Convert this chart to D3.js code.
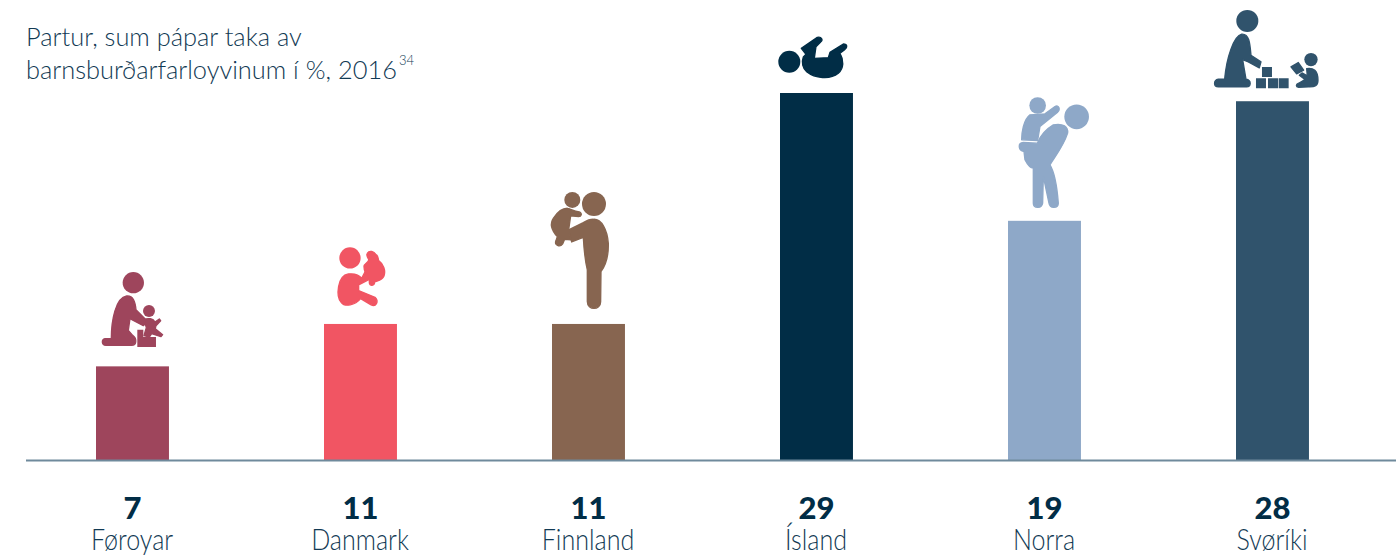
<!DOCTYPE html>
<html><head><meta charset="utf-8">
<script src="https://cdn.jsdelivr.net/npm/d3@7"></script>
<style>html,body{margin:0;background:#fff;overflow:hidden}svg{display:block}</style>
</head><body><div id="c"></div>
<script>
const categories = ["Føroyar","Danmark","Finnland","Ísland","Norra","Svøríki"];
const values = [7.4,10.75,10.75,29,18.9,28.35];
const barColors = ["#9e455c","#f15563","#876550","#012d46","#8ea8c8","#30536c"];
const titleLines = ["Partur, sum pápar taka av","barnsburðarfarloyvinum í %, 2016"];
const titleNote = "34";

// Pictograms drawn at 3x, offset from the top centre of their bar
const icons = [
 {dx:-52.5,dy:-126,circles:[[160,127,32],[207,212,18]],
  sharp:["M172 268H190V290H228V320H172Z"],
  fills:["M140 167C160 165 166 185 168 208L203 243 190 256 150 235 145 270 158 285C172 295 170 315 155 315L78 315C64 315 64 297 75 295L94 295C94 240 107 172 140 167Z",
   "M192 238C205 232 220 234 225 245L238 236 242 241 228 256 226 265 248 283 243 289 215 280 208 290 192 286 199 262Z"]},
 {dx:-280.5,dy:-84,circles:[[810,54,32]],sharp:[],
  fills:["M805 102C825 100 838 105 845 115L858 90 878 100 868 118 836 135 836 152 885 172C898 185 888 203 872 194L842 176C825 196 795 202 784 188C767 170 772 107 805 102Z",
   "M862 40C868 30 882 34 888 44C896 48 894 56 896 62C910 72 918 92 912 108C906 122 892 122 884 126C884 138 868 140 868 128L868 112C860 105 852 92 852 80C852 70 868 68 866 58C862 52 858 46 862 40Z"]},
 {dx:-58.5,dy:-144,circles:[[192,72,36],[127,60,24]],sharp:[],
  fills:["M190 118C215 116 232 150 235 190C236 225 228 255 213 275L212 365C212 392 172 392 172 365L172 270C165 240 162 210 160 172L125 186 116 150 160 128C170 122 180 118 190 118Z",
   "M112 85C125 87 128 93 148 96C158 101 154 110 146 110L122 108 116 150 123 180 104 178 98 192C90 203 72 196 78 182L82 170C64 150 60 130 70 115C80 100 95 85 112 85Z"]},
 {dx:-56.5,dy:-68,circles:[[88,110,33]],sharp:[],
  fills:["M124 70L172 37C185 34 190 45 182 51L168 65 163 100 205 98 210 82 250 57C263 57 263 68 254 74L240 85C252 105 252 130 235 145C210 165 165 160 140 140C128 130 124 112 130 96L138 88Z"]},
 {dx:-44.5,dy:-131,circles:[[230,81,37],[113,47,25]],sharp:[],
  fills:["M90 75C70 90 65 130 65 150L113 152 120 110 172 68C183 58 176 44 165 50L135 72Z",
   "M160 105C190 100 205 110 203 130C190 170 165 200 150 225C165 250 172 300 175 340C175 355 150 358 147 340L130 260 128 340C125 358 100 355 100 340L100 235C92 235 85 230 75 210L72 185C55 182 52 160 70 158L112 160C120 140 135 120 160 105Z"]},
 {dx:-72.5,dy:-101,circles:[[142,62,33],[333,178,20]],
  sharp:["M186 200H216V230H186ZM168 234H198V264H168ZM204 234H234V264H204ZM236 234H266V264H236Z"],
  fills:["M125 102C148 100 150 130 153 165L183 185 178 203 145 185 128 178 138 237C156 240 153 260 140 260L55 260C40 260 40 240 55 237L74 237C80 170 102 107 125 102Z",
   "M273 200L295 187 311 210 290 221Z",
   "M320 205C340 202 354 210 354 240C354 256 345 261 325 260L296 261C287 260 287 252 296 249L315 238 298 225 306 218 322 227Z"]}
];

const W=1396,H=558,baseY=460;
const x=d3.scaleBand().domain(categories).range([18.48,1386.48]).paddingInner(.68).paddingOuter(.34);
const y=d3.scaleLinear().domain([0,29]).range([baseY,93]);
const svg=d3.select("#c").append("svg").attr("width",W).attr("height",H);

const title=svg.append("text").attr("font-family","Lato").attr("font-weight",300).attr("fill","#123a54").attr("font-size",26);
title.append("tspan").attr("x",26).attr("y",46).text(titleLines[0]);
const line2=title.append("tspan").attr("x",26).attr("y",79).text(titleLines[1]);
// Fit the substitute font to the reference's line width rather than stretching it
title.attr("font-size",26*371/line2.node().getComputedTextLength());
svg.append("text").attr("x",399).attr("y",65).attr("font-family","Lato").attr("font-weight",300)
 .attr("font-size",13).attr("fill","#123a54").text(titleNote);

svg.selectAll("rect.bar").data(categories).join("rect").attr("class","bar")
 .attr("x",d=>x(d)).attr("width",x.bandwidth())
 .attr("y",(d,i)=>y(values[i])).attr("height",(d,i)=>baseY-y(values[i]))
 .attr("fill",(d,i)=>barColors[i]);

svg.append("line").attr("x1",26).attr("x2",W).attr("y1",baseY+.5).attr("y2",baseY+.5).attr("stroke","#6f8a9c").attr("stroke-width",2);

categories.forEach((c,i)=>{
 const ic=icons[i], cx=x(c)+x.bandwidth()/2;
 const g=svg.append("g").attr("fill",barColors[i])
  .attr("transform",`translate(${cx+ic.dx},${y(values[i])+ic.dy}) scale(${1/3})`);
 ic.fills.forEach(d=>g.append("path").attr("d",d).attr("stroke",barColors[i]).attr("stroke-width",4).attr("stroke-linejoin","round"));
 ic.sharp.forEach(d=>g.append("path").attr("d",d));
 ic.circles.forEach(k=>g.append("circle").attr("cx",k[0]).attr("cy",k[1]).attr("r",k[2]));
});

svg.selectAll("text.num").data(categories).join("text").attr("class","num")
 .attr("x",d=>x(d)+x.bandwidth()/2).attr("y",519).attr("text-anchor","middle")
 .attr("font-family","Lato").attr("font-weight",900).attr("font-size",31).attr("fill","#012d46")
 .text((d,i)=>d3.format(".0f")(values[i]));
svg.selectAll("text.cat").data(categories).join("text").attr("class","cat")
 .attr("x",d=>x(d)+x.bandwidth()/2-.5).attr("y",550).attr("text-anchor","middle")
 .attr("font-family","Lato").attr("font-weight",300).attr("font-size",28.5).attr("fill","#123a54")
 .attr("transform",d=>`translate(${(x(d)+x.bandwidth()/2)*.12},0) scale(.88,1)`)
 .text(d=>d);
</script></body></html>
